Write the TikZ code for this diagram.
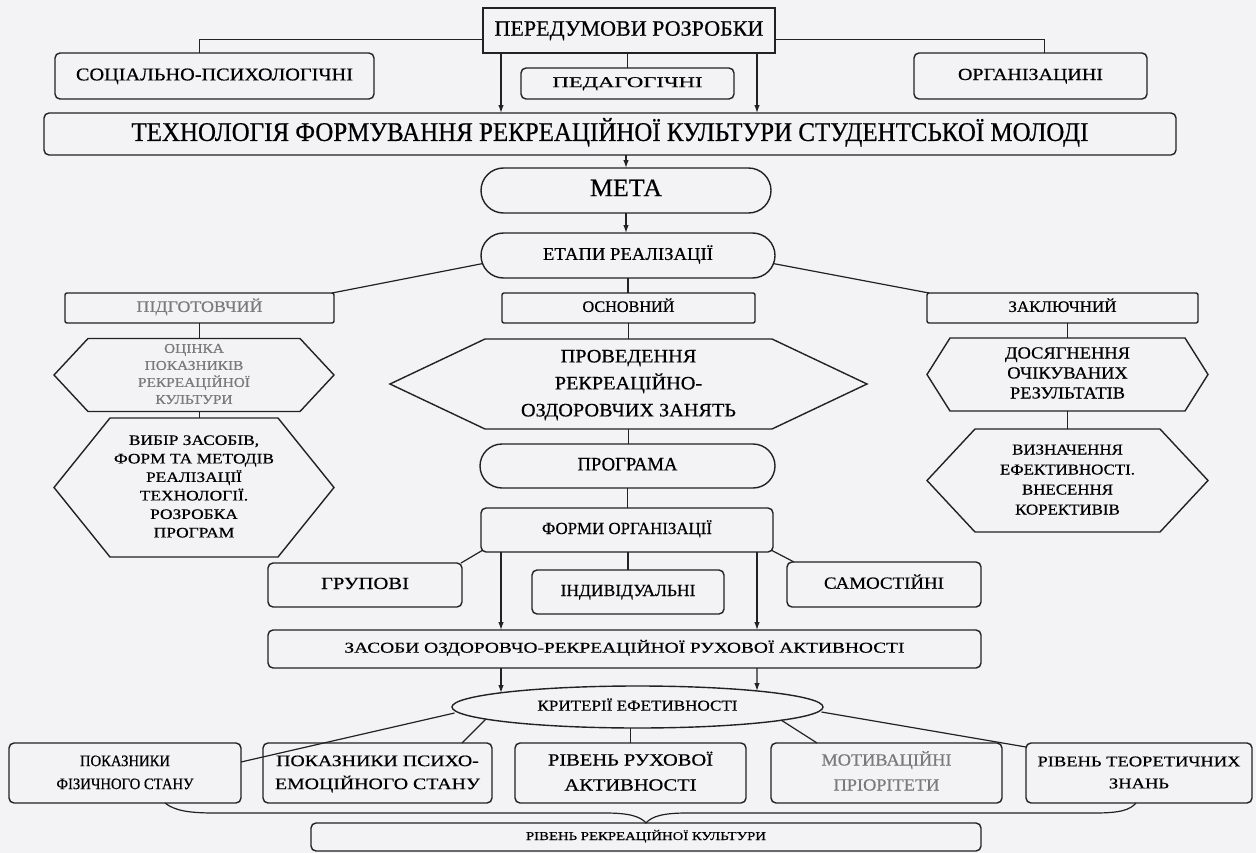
\documentclass[tikz,border=0pt]{standalone}
\usepackage{fontspec}
\setmainfont{Liberation Serif}
\usepackage{graphicx}
\usetikzlibrary{shapes.misc,shapes.geometric,arrows.meta}
\definecolor{lc}{HTML}{222222}
\definecolor{gt}{HTML}{7A7A7A}
\definecolor{bgc}{HTML}{F3F3F5}
% #1 font size, #2 target width, #3 baselineskip, #4 text
\newcommand\tx[4]{\resizebox{#2bp}{\height}{\fontsize{#1bp}{#3bp}\selectfont\addfontfeature{FakeBold=0.5}\begin{tabular}{@{}c@{}}#4\end{tabular}}}
\newcommand\hexo[2]{\draw[hexline] (#1.west) -- ([xshift=#2bp]#1.north west) -- ([xshift=-#2bp]#1.north east) -- (#1.east) -- ([xshift=-#2bp]#1.south east) -- ([xshift=#2bp]#1.south west) -- cycle;}
\tikzset{
  base/.style={inner sep=0pt, outer sep=0pt, align=center, text=black},
  rbox/.style={base, draw=lc, line width=1.4bp, rounded corners=5bp, rectangle},
  sbox/.style={base, draw=lc, line width=1.4bp, rectangle},
  stad/.style={base, draw=lc, line width=1.4bp, rounded rectangle},
  ell/.style={base, draw=lc, line width=1.4bp, ellipse},
  hexn/.style={base, rectangle},
  hexline/.style={draw=lc, line width=1.4bp, line join=miter},
  ln/.style={draw=lc, line width=1.2bp},
  arr/.style={ln, -{Latex[length=8bp,width=5.5bp]}},
}
\begin{document}
\begin{tikzpicture}[x=1bp,y=-1bp]
\fill[bgc] (0,0) rectangle (1256,853);
\useasboundingbox (0,0) rectangle (1256,853);
\coordinate (xL) at (501,0);
\coordinate (xR) at (757,0);

% top
\node[sbox, minimum width=292bp, minimum height=45bp] (perd) at (629,30.5) {\tx{22}{269}{26}{ПЕРЕДУМОВИ РОЗРОБКИ}};
\node[rbox, minimum width=319bp, minimum height=46bp] (soc) at (214.5,76) {\tx{18}{277}{22}{СОЦІАЛЬНО-ПСИХОЛОГІЧНІ}};
\node[rbox, minimum width=213bp, minimum height=31bp] (ped) at (627.5,83.5) {\tx{15}{150}{18}{ПЕДАГОГІЧНІ}};
\node[rbox, minimum width=233bp, minimum height=46bp] (org) at (1030.5,76) {\tx{17}{145}{20}{ОРГАНІЗАЦИНІ}};
\node[rbox, minimum width=1132bp, minimum height=42bp] (tech) at (610,134) {\tx{27}{957}{30}{ТЕХНОЛОГІЯ ФОРМУВАННЯ РЕКРЕАЦІЙНОЇ КУЛЬТУРИ СТУДЕНТСЬКОЇ МОЛОДІ}};
\node[stad, minimum width=290bp, minimum height=45bp] (meta) at (626,190.5) {\tx{25}{72}{28}{МЕТА}};
\node[stad, minimum width=294bp, minimum height=45bp] (etapy) at (628,255.5) {\tx{18}{170}{22}{ЕТАПИ РЕАЛІЗАЦІЇ}};

% stages
\node[rbox, rounded corners=2bp, minimum width=269bp, minimum height=30bp] (podg) at (199.5,308) {\color{gt}\tx{16}{126}{19}{ПІДГОТОВЧИЙ}};
\node[rbox, rounded corners=2bp, minimum width=253bp, minimum height=30bp] (osn) at (628.5,308) {\tx{16}{92}{19}{ОСНОВНИЙ}};
\node[rbox, rounded corners=2bp, minimum width=271bp, minimum height=30bp] (zakl) at (1062.5,308) {\tx{16}{108}{19}{ЗАКЛЮЧНИЙ}};

% hexagons
\node[hexn, minimum width=280bp, minimum height=73bp] (ocin) at (194,375) {\color{gt}\tx{13.5}{112}{17}{ОЦІНКА\\ПОКАЗНИКІВ\\РЕКРЕАЦІЙНОЇ\\КУЛЬТУРИ}};
\hexo{ocin}{34}
\node[hexn, minimum width=280bp, minimum height=139bp] (vybir) at (194,487.5) {\tx{14.5}{160}{18.5}{ВИБІР ЗАСОБІВ,\\ФОРМ ТА МЕТОДІВ\\РЕАЛІЗАЦІЇ\\ТЕХНОЛОГІЇ.\\РОЗРОБКА\\ПРОГРАМ}};
\hexo{vybir}{56}
\node[hexn, minimum width=477bp, minimum height=90bp] (prov) at (628.5,384) {\tx{19}{215}{27}{ПРОВЕДЕННЯ\\РЕКРЕАЦІЙНО-\\ОЗДОРОВЧИХ ЗАНЯТЬ}};
\hexo{prov}{95}
\node[hexn, minimum width=281bp, minimum height=73bp] (dosyag) at (1067.5,374.5) {\tx{17}{125}{20}{ДОСЯГНЕННЯ\\ОЧІКУВАНИХ\\РЕЗУЛЬТАТІВ}};
\hexo{dosyag}{23}
\node[hexn, minimum width=281bp, minimum height=103bp] (vyzn) at (1067.5,480.5) {\tx{15}{135}{20}{ВИЗНАЧЕННЯ\\ЕФЕКТИВНОСТІ.\\ВНЕСЕННЯ\\КОРЕКТИВІВ}};
\hexo{vyzn}{48}

% program
\node[stad, minimum width=295bp, minimum height=44bp] (prog) at (627.5,466) {\tx{19}{100}{22}{ПРОГРАМА}};
\node[rbox, minimum width=292bp, minimum height=44bp] (form) at (627,530) {\tx{17}{170}{20}{ФОРМИ ОРГАНІЗАЦІЇ}};
\node[rbox, minimum width=194bp, minimum height=44bp] (grup) at (365,585) {\tx{17}{88}{20}{ГРУПОВІ}};
\node[rbox, minimum width=192bp, minimum height=44bp] (indyv) at (628,592) {\tx{17}{135}{20}{ІНДИВІДУАЛЬНІ}};
\node[rbox, minimum width=194bp, minimum height=45bp] (sam) at (884,584.5) {\tx{17}{120}{20}{САМОСТІЙНІ}};
\node[rbox, minimum width=713bp, minimum height=38bp] (zasoby) at (624.5,649) {\tx{15}{560}{18}{ЗАСОБИ ОЗДОРОВЧО-РЕКРЕАЦІЙНОЇ РУХОВОЇ АКТИВНОСТІ}};
\node[ell, minimum width=371bp, minimum height=42bp] (kryt) at (637.5,707) {\tx{15}{200}{18}{КРИТЕРІЇ ЕФЕТИВНОСТІ}};

% criteria
\node[rbox, minimum width=232bp, minimum height=60bp] (pfiz) at (125,773) {\tx{16}{137}{23}{ПОКАЗНИКИ\\ФІЗИЧНОГО СТАНУ}};
\node[rbox, minimum width=229bp, minimum height=60bp] (ppsy) at (377.5,773) {\tx{16}{205}{23}{ПОКАЗНИКИ ПСИХО-\\ЕМОЦІЙНОГО СТАНУ}};
\node[rbox, minimum width=231bp, minimum height=60bp] (rruh) at (630.5,773) {\tx{17}{165}{25}{РІВЕНЬ РУХОВОЇ\\АКТИВНОСТІ}};
\node[rbox, minimum width=231bp, minimum height=60bp] (motiv) at (886.5,773) {\color{gt}\tx{17}{130}{25}{МОТИВАЦІЙНІ\\ПРІОРІТЕТИ}};
\node[rbox, minimum width=226bp, minimum height=60bp] (rteor) at (1139,773) {\tx{15}{203}{22}{РІВЕНЬ ТЕОРЕТИЧНИХ\\ЗНАНЬ}};
\node[rbox, minimum width=670bp, minimum height=28bp] (rrk) at (646,837) {\tx{12}{240}{15}{РІВЕНЬ РЕКРЕАЦІЙНОЇ КУЛЬТУРИ}};

% connectors top
\draw[ln] ([yshift=-9bp]perd.west) -| ([xshift=-15bp]soc.north);
\draw[ln] ([yshift=-9bp]perd.east) -| ([xshift=14bp]org.north);
\draw[ln] (perd.south -| ped.north) -- (ped.north);
\draw[arr] (perd.south -| xL) -- (tech.north -| xL);
\draw[arr] (perd.south -| xR) -- (tech.north -| xR);
\draw[arr] (tech.south -| meta.north) -- (meta.north);
\draw[arr] (meta.south) -- (meta.south |- etapy.north);
\draw[ln] ([shift={(-145,8)}]etapy.center) -- ([xshift=-2bp]podg.north east);
\draw[ln] ([shift={(145,8)}]etapy.center) -- ([xshift=2bp]zakl.north west);
\draw[ln] (etapy.south) -- (etapy.south |- osn.north);
\draw[ln] (podg.south) -- (podg.south |- ocin.north);
\draw[ln] (podg.south |- ocin.south) -- (podg.south |- vybir.north);
\draw[ln] (osn.south) -- (osn.south |- prov.north);
\draw[ln] (dosyag.north |- zakl.south) -- (dosyag.north);
\draw[ln] (dosyag.south) -- (vyzn.north);
\draw[ln] (prov.south) -- (prov.south |- prog.north);
\draw[ln] (prog.south) -- (prog.south |- form.north);
\draw[ln] ([shift={(2,-2)}]form.south west) -- ([xshift=-1bp]grup.north east);
\draw[ln] (form.south -| indyv.north) -- (indyv.north);
\draw[ln] ([shift={(-2,-2)}]form.south east) -- ([xshift=7bp]sam.north west);
\draw[arr] (form.south -| xL) -- (zasoby.north -| xL);
\draw[arr] (form.south -| xR) -- (zasoby.north -| xR);
\draw[arr] (zasoby.south -| xL) -- ([shift={(-136.5,-14)}]kryt.center);
\draw[arr] (zasoby.south -| xR) -- ([shift={(119.5,-16)}]kryt.center);

% criteria connectors
\draw[ln] ([shift={(-183,6)}]kryt.center) -- ([yshift=11bp]pfiz.east);
\draw[ln] ([shift={(-151.5,12)}]kryt.center) -- ([xshift=-30bp]ppsy.north east);
\draw[ln] (rruh.north |- kryt.south) -- (rruh.north);
\draw[ln] ([shift={(143.5,13)}]kryt.center) -- ([xshift=46bp]motiv.north west);
\draw[ln] ([shift={(184,5)}]kryt.center) -- ([yshift=-4bp]rteor.north west);

% brace
\draw[ln] ([xshift=40bp]pfiz.south) .. controls ([shift={(50,8)}]pfiz.south) and (190,813) .. (215,813) -- (605,813) .. controls (628,813) and (640,816) .. (rrk.north) .. controls (652,816) and (664,813) .. (687,813) -- (1095,813) .. controls (1120,813) and (1130,810) .. ([xshift=-3bp]rteor.south);
\end{tikzpicture}
\end{document}
